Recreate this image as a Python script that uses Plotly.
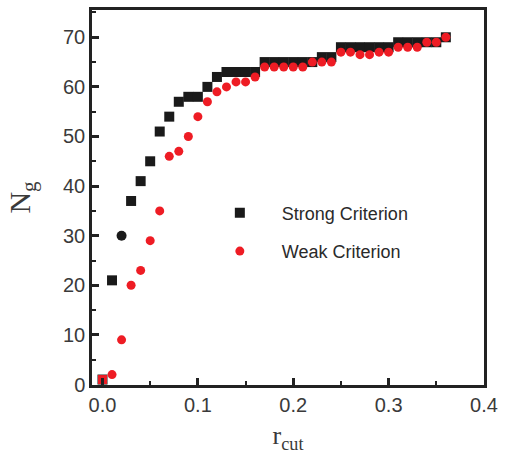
import plotly.graph_objects as go

r_cut = [0.00, 0.01, 0.02, 0.03, 0.04, 0.05, 0.06, 0.07, 0.08, 0.09,
         0.10, 0.11, 0.12, 0.13, 0.14, 0.15, 0.16, 0.17, 0.18, 0.19,
         0.20, 0.21, 0.22, 0.23, 0.24, 0.25, 0.26, 0.27, 0.28, 0.29,
         0.30, 0.31, 0.32, 0.33, 0.34, 0.35, 0.36]
strong = [1, 21, 30, 37, 41, 45, 51, 54, 57, 58,
          58, 60, 62, 63, 63, 63, 63, 65, 65, 65,
          65, 65, 65, 66, 66, 68, 68, 68, 68, 68,
          68, 69, 69, 69, 69, 69, 70]
weak = [1, 2, 9, 20, 23, 29, 35, 46, 47, 50,
        54, 57, 59, 60, 61, 61, 62, 64, 64, 64,
        64, 64, 65, 65, 65, 67, 67, 66.5, 66.5, 67,
        67, 68, 68, 68, 69, 69, 70]

x_ticks = [0.0, 0.1, 0.2, 0.3, 0.4]
x_labels = ["0.0", "0.1", "0.2", "0.3", "0.4"]
y_ticks = [0, 10, 20, 30, 40, 50, 60, 70]

strong_symbols = ["square"] * len(strong)
strong_symbols[2] = "circle"

BLACK = "#1a1a1a"
RED = "#ee1c24"

fig = go.Figure()
fig.add_trace(go.Scatter(
    x=r_cut, y=strong, mode="markers", name="Strong Criterion",
    legendgroup="s",
    marker=dict(symbol=strong_symbols, size=10, color=BLACK, line=dict(width=0)),
))
fig.add_trace(go.Scatter(
    x=r_cut[1:], y=weak[1:], mode="markers", name="Weak Criterion",
    legendgroup="w",
    marker=dict(symbol="circle", size=9, color=RED, line=dict(width=0)),
))
fig.add_trace(go.Scatter(
    x=r_cut[:1], y=weak[:1], mode="markers", name="Weak Criterion",
    legendgroup="w", showlegend=False,
    marker=dict(symbol="square", size=9, color=RED, line=dict(width=0)),
))

tickfont = dict(family="Liberation Sans Narrow, Arial Narrow, Liberation Sans, Arial", size=20, color="#3a3a3a")
axis_common = dict(
    showline=True, linewidth=2.5, linecolor="#222222", mirror=True,
    ticks="inside", ticklen=7, tickwidth=2.5, tickcolor="#222222",
    showgrid=False, zeroline=False, tickfont=tickfont,
)

fig.update_xaxes(
    range=[-0.011, 0.4], tickvals=x_ticks, ticktext=x_labels,
    minor=dict(dtick=0.05, tick0=0, ticks="inside", ticklen=4, tickwidth=2, tickcolor="#222222"),
    title=dict(text="r<sub>cut</sub>", font=dict(family="Liberation Serif, Times New Roman, serif", size=26, color="#3a3a3a"), standoff=12),
    **axis_common,
)
fig.update_yaxes(
    range=[-0.1, 75.5], tickvals=y_ticks,
    minor=dict(dtick=5, tick0=0, ticks="inside", ticklen=4, tickwidth=2, tickcolor="#222222"),
    title=dict(text="N<sub>g</sub>", font=dict(family="Liberation Serif, Times New Roman, serif", size=30, color="#3a3a3a"), standoff=24),
    **axis_common,
)

fig.update_layout(
    width=505, height=462,
    margin=dict(l=92, r=14, t=7, b=77),
    paper_bgcolor="white", plot_bgcolor="white",
    showlegend=True,
    legend=dict(
        x=0.27, y=0.508, xanchor="left", yanchor="top",
        bgcolor="rgba(0,0,0,0)", borderwidth=0,
        font=dict(family="Liberation Sans, Arial", size=18, color="#2a2a2a"),
        traceorder="grouped", tracegroupgap=12, itemwidth=74,
    ),
)

fig.write_html(
    "out.html",
    config={"displayModeBar": False},
    post_script="document.body.style.margin='0';document.body.style.overflow='hidden';",
)
